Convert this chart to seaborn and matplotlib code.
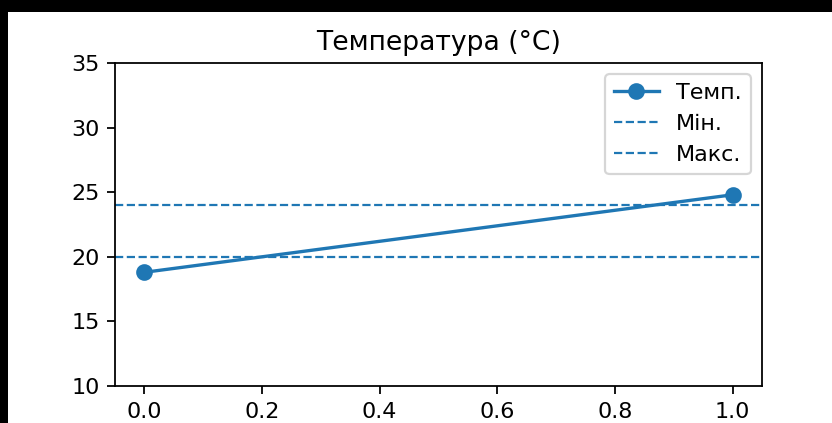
import matplotlib
matplotlib.use("Agg")
import matplotlib.pyplot as plt
import seaborn as sns
import pandas as pd
from matplotlib.patches import Rectangle

# Data
x_vals = [0.0, 1.0]
temps = [18.8, 24.8]
t_min = 20
t_max = 24
labels = ["Темп.", "Мін.", "Макс."]
title = "Температура (°C)"
yticks = [10, 15, 20, 25, 30, 35]
xticks = [0.0, 0.2, 0.4, 0.6, 0.8, 1.0]

plt.rcParams['font.family'] = ['DejaVu Sans']

W, H, DPI = 832, 423, 160
fig = plt.figure(figsize=(W / DPI, H / DPI), dpi=DPI, facecolor='white')
# black screenshot frame: top band and left band
fig.patches.append(Rectangle((0, 1 - 12 / H), 1, 12 / H, transform=fig.transFigure,
                             facecolor='black', edgecolor='none', zorder=-10))
fig.patches.append(Rectangle((0, 0), 8 / W, 1, transform=fig.transFigure,
                             facecolor='black', edgecolor='none', zorder=-10))

ax = fig.add_axes([115 / W, 1 - 386 / H, (762 - 115) / W, (386 - 63) / H])

df = pd.DataFrame({"x": x_vals, "t": temps})
color = "#1f77b4"
sns.lineplot(data=df, x="x", y="t", marker="o", markersize=6.5,
             markeredgewidth=1, markeredgecolor=color,
             linewidth=1.5, color=color, label=labels[0], ax=ax)
ax.axhline(t_min, ls="--", lw=1, color=color, label=labels[1])
ax.axhline(t_max, ls="--", lw=1, color=color, label=labels[2])

ax.set_ylim(10, 35)
ax.set_yticks(yticks)
ax.set_xticks(xticks)
ax.set_xlim(-0.05, 1.05)
ax.set_xlabel("")
ax.set_ylabel("")
ax.set_title(title, fontsize=12)
ax.legend(loc="upper right")

fig.savefig("out.png", dpi=DPI, facecolor='white')
